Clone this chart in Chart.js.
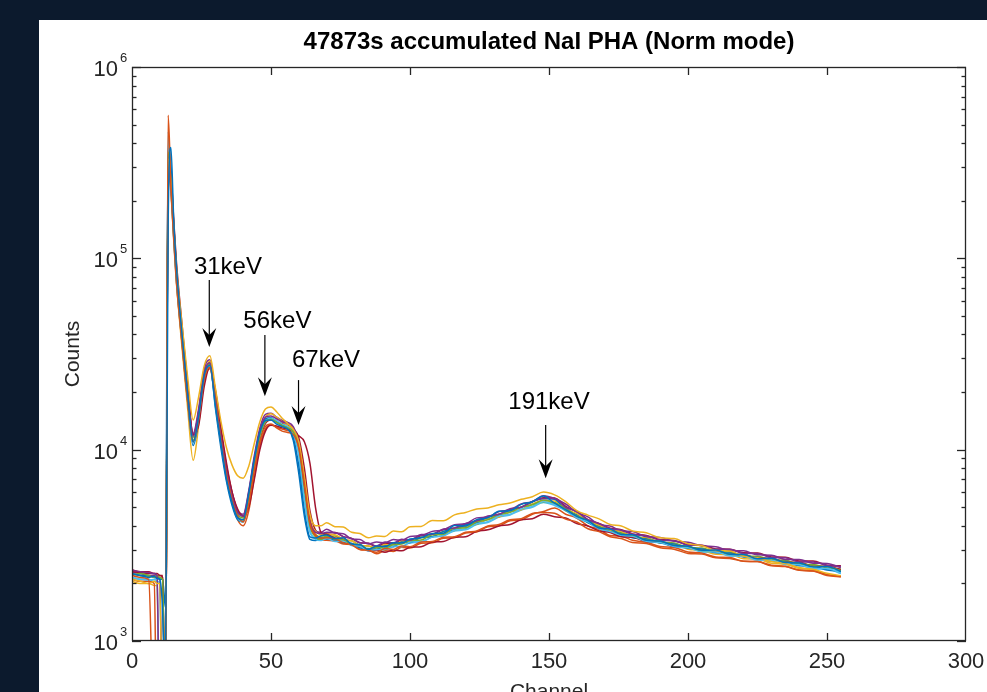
<!DOCTYPE html>
<html><head><meta charset="utf-8">
<script src="https://cdn.jsdelivr.net/npm/chart.js@4.4.1/dist/chart.umd.min.js"></script>
<style>html,body{margin:0;padding:0;background:#0c1a2d;overflow:hidden}#wrap{width:987px;height:692px;position:relative}</style>
</head><body><div id="wrap"><canvas id="c" width="987" height="692"></canvas></div>
<script>
// ---- data ----
const channels = [0,3,6,8,9,10,11,12,13,14,15,16,18,20,22,24,26,28,30,32,34,36,38,40,42,44,46,48,50,52,54,56,58,60,62,64,66,68,70,73,76,79,82,85,88,91,94,97,100,104,108,112,116,120,124,128,132,136,140,144,148,152,156,160,164,168,172,176,180,185,190,195,200,205,210,215,220,225,230,235,240,245,250,255];

const s01 = [2250,2200,2150,2180,2120,2100,1450,500,150000,380000,
160000,90000,40000,19500,11000,15000,24500,27500,17000,10800,
7000,5300,4400,4300,5900,8900,12300,14200,14300,13600,
13200,12800,11500,8200,4800,3500,3450,3550,
3580,3420,3460,3210,3190,3010,3140,3110,3260,3250,3410,3460,3650,3660,4010,3990,4310,4400,4760,4800,5180,5330,5720,5250,4860,4480,4260,3900,3850,3600,3590,3360,3330,3160,3130,2980,2990,2840,2830,2690,2710,2570,2560,2440,2450,2310];
const s02 = [2200,2150,2100,300,300,300,300,300,560000,240000,
130000,76000,36000,18000,11000,14500,23500,27000,18000,11200,
7400,5500,4500,4200,5200,7800,11000,13200,13600,13000,
12500,12300,12000,10200,6600,4100,3550,3450,
3460,3430,3260,3180,3010,2980,2910,3040,3010,3140,3110,3290,3310,3490,3510,3700,3760,3990,4060,4300,4360,4640,4700,4650,4340,4190,3860,3730,3510,3430,3270,3230,3070,3020,2870,2850,2720,2700,2610,2600,2490,2460,2350,2320,2200,2160];
const s03 = [2100,2050,2000,2050,2000,2000,300,300,330000,260000,
150000,90000,45000,24000,14300,19000,27500,31000,21000,14000,
10200,8300,7300,7100,8200,10800,14000,16300,16700,15800,
14600,13700,12800,11000,7200,4600,4000,4000,
4150,3960,3940,3700,3650,3460,3540,3520,3760,3720,3950,3970,4260,4250,4560,4700,4900,4960,5150,5260,5500,5680,6000,5800,5350,4800,4550,4350,4060,3990,3760,3680,3460,3430,3220,3150,2970,2950,2770,2720,2600,2540,2420,2370,2260,2190];
const s04 = [2350,2300,2280,2250,2200,300,300,300,300000,240000,
140000,82000,39000,19500,11800,16000,25500,28500,18500,11600,
7700,5700,4700,4500,6000,9000,12500,14800,15000,14500,
14000,13700,13000,10800,6600,4200,3700,3650,
3700,3690,3510,3440,3260,3240,3140,3290,3260,3400,3370,3600,3610,3850,3900,4110,4250,4500,4600,4910,5000,5360,5560,5560,5000,4750,4300,4100,3860,3790,3610,3540,3370,3340,3170,3160,3010,3020,2870,2870,2730,2720,2590,2590,2480,2450];
const s05 = [2200,2250,2200,2150,2200,2150,2100,300,360000,250000,
135000,79000,37500,18800,11200,15200,24800,28200,18200,11300,
7500,5500,4500,4300,5600,8400,11800,14000,14400,13900,
13400,13000,12400,10300,6300,4000,3500,3400,
3540,3400,3390,3200,3190,3010,3090,3060,3190,3210,3350,3370,3590,3610,3890,3910,4200,4300,4600,4700,5010,5150,5450,5260,4950,4500,4290,3920,3840,3620,3580,3370,3330,3170,3130,2970,2980,2840,2830,2700,2700,2580,2560,2460,2450,2330];
const s06 = [2150,2100,2080,2100,2050,300,300,300,460000,230000,
128000,76000,37000,18500,10800,14800,24000,27200,17500,11000,
7300,5400,4400,4200,5500,8300,11700,14000,14600,14200,
13600,13200,12300,9500,5600,3800,3400,3350,
3440,3310,3330,3160,3130,2960,3010,3010,3140,3110,3290,3310,3490,3560,3790,3860,4100,4200,4500,4600,4900,5050,5350,5160,4850,4400,4190,3860,3730,3570,3530,3320,3270,3120,3070,2940,2920,2800,2770,2650,2640,2520,2500,2400,2390,2270];
const s07 = [2300,2280,2250,2250,2200,2200,2150,300,280000,270000,
160000,95000,45000,22000,12000,13500,21500,27000,20500,13000,
8500,6000,4900,4500,5000,7000,10000,12500,13400,13300,
13000,12800,12500,11800,11000,8500,5000,3700,
3600,3460,3390,3210,3140,2960,2990,2910,2990,2960,3090,3110,3290,3310,3490,3510,3740,3810,3990,4060,4300,4360,4600,4460,4390,4110,3990,3760,3690,3510,3490,3310,3290,3120,3110,2970,2960,2830,2830,2710,2710,2580,2580,2460,2460,2360];
const s08 = [2250,2200,2200,2150,2150,2100,2100,1500,380000,300000,
150000,85000,38000,18500,10500,14200,23800,27800,16500,10200,
6800,5100,4300,4200,5800,8800,12400,14500,14700,14000,
13500,13000,11200,7500,4500,3400,3350,3450,
3410,3390,3260,3240,3060,3040,3010,3140,3110,3290,3260,3490,3510,3740,3810,4050,4150,4450,4560,4850,5000,5350,5560,5500,4850,4550,4160,3940,3710,3640,3460,3410,3250,3210,3050,3030,2890,2880,2750,2730,2610,2600,2470,2460,2350,2310];
const s09 = [2100,2050,2050,2000,300,300,300,300,270000,220000,
125000,74000,36000,18000,11000,14000,22800,26500,18000,11500,
7400,5300,4300,4000,4800,7200,10500,12800,13500,13100,
12800,12600,12200,10600,7000,4300,3600,3400,
3360,3340,3210,3190,3010,2990,2860,2960,2940,3090,3060,3240,3260,3440,3460,3670,3710,3950,4000,4250,4300,4600,4750,4950,4600,4390,4000,3840,3560,3530,3360,3280,3120,3080,2920,2880,2750,2730,2610,2600,2470,2450,2340,2320,2220,2180];
const s10 = [2050,2000,2000,1950,1950,300,300,300,320000,230000,
130000,75000,34000,16500,8800,13500,24000,29000,18500,11000,
7200,5300,4400,4200,5700,8600,12200,14800,15400,14800,
14000,13300,12700,10700,6800,4300,3750,3600,
3610,3590,3410,3340,3160,3140,3060,3190,3160,3320,3310,3490,3510,3740,3800,4000,4100,4350,4450,4750,4850,5200,5400,5390,4900,4640,4260,4040,3810,3740,3510,3440,3250,3210,3020,2980,2840,2830,2690,2680,2550,2520,2390,2360,2230,2170];
const s11 = [2300,2250,2200,2200,2150,2150,300,300,290000,250000,
145000,84000,40000,20000,12200,16500,26500,29500,19000,12000,
8000,5900,4800,4600,6100,9300,13000,15300,15500,14800,
14200,13900,13200,10900,6700,4200,3750,3700,
3840,3660,3640,3410,3390,3210,3290,3260,3390,3360,3520,3560,3740,3810,4050,4100,4400,4450,4750,4850,5200,5350,5750,5560,5200,4700,4450,4060,3990,3760,3740,3510,3480,3320,3280,3140,3110,2970,2960,2820,2810,2670,2670,2550,2540,2420];
const s12 = [2250,2200,2180,2200,2150,2150,2100,300,330000,245000,
138000,80000,38500,19200,11600,15800,25200,28000,18000,11300,
7500,5600,4600,4400,5700,8500,11900,14100,14500,14000,
13500,13100,12600,10600,6600,4100,3600,3500,
3510,3540,3360,3340,3160,3140,3040,3160,3140,3290,3290,3470,3510,3720,3780,3990,4080,4340,4460,4740,4860,5190,5310,5290,4810,4540,4160,3990,3760,3690,3510,3460,3290,3250,3090,3060,2930,2920,2780,2770,2660,2640,2520,2510,2410,2380];
const s13 = [2150,2100,2100,2050,2050,2000,300,300,400000,270000,
140000,80000,37000,18500,11000,15000,24800,28000,17800,11000,
7200,5300,4400,4200,5600,8500,12000,14200,14500,13900,
13300,12900,12000,9300,5500,3700,3450,3400,
3490,3360,3340,3160,3120,2960,3020,2990,3120,3110,3260,3290,3490,3540,3760,3810,4060,4160,4440,4560,4840,5000,5290,5110,4790,4380,4160,3840,3740,3540,3520,3300,3260,3100,3070,2920,2910,2780,2770,2640,2640,2510,2500,2380,2380,2250];
const s14 = [2350,2300,2300,2250,2250,2200,2200,300,300000,260000,
150000,88000,42000,20500,12000,15000,24000,28500,19500,12500,
8200,6000,4800,4500,5500,8000,11200,13700,14300,14000,
13700,13400,12900,11500,8000,4800,3800,3650,
3660,3690,3510,3440,3260,3240,3110,3240,3210,3370,3360,3560,3610,3820,3880,4090,4210,4460,4580,4860,5010,5340,5610,5590,5060,4740,4310,4120,3880,3820,3630,3560,3390,3350,3190,3170,3030,3020,2890,2880,2750,2740,2620,2620,2490,2470];

const seriesList = [s01,s02,s03,s04,s05,s06,s07,s08,s09,s10,s11,s12,s13,s14];
const seriesColors = ['#0072BD','#D95319','#EDB120','#7E2F8E','#77AC30','#4DBEEE','#A2142F'];

const xTicks = [0,50,100,150,200,250,300];
const yTicks = [1000,10000,100000,1000000];
const yTickExp = ['3','4','5','6'];

const titleText = '47873s accumulated NaI PHA (Norm mode)';
const xTitle = 'Channel';
const yTitle = 'Counts';

const annLabels = ['31keV','56keV','67keV','191keV'];
const annArrowChannel = [27.8,47.8,59.9,148.8];
const annArrowTip = [34400,19000,13450,7100];
const annArrowTail = [77000,39700,23100,13450];
const annTextChannel = [34.5,52.3,69.8,150.0];
const annTextBase = [82800,43200,27000,16300];

// ---- drawing ----
const FONT = '"Liberation Sans", Arial, Helvetica, sans-serif';
const INK = '#262626';

const bgPlugin = {
  id:'bg',
  beforeDraw(chart){
    const ctx = chart.ctx;
    ctx.save();
    ctx.fillStyle = '#0c1a2d';
    ctx.fillRect(0,0,chart.width,chart.height);
    ctx.fillStyle = '#ffffff';
    ctx.fillRect(39,20,chart.width-39,chart.height-20);
    ctx.restore();
  }
};

function ln(ctx,x1,y1,x2,y2){ctx.beginPath();ctx.moveTo(x1,y1);ctx.lineTo(x2,y2);ctx.stroke();}

const axesPlugin = {
  id:'axesdeco',
  afterDatasetsDraw(chart){
    const ctx = chart.ctx;
    const {left,right,top,bottom} = chart.chartArea;
    const xs = chart.scales.x, ys = chart.scales.y;
    ctx.save();
    // annotations
    ctx.fillStyle = '#000';
    ctx.strokeStyle = '#000';
    ctx.lineWidth = 1.2;
    for (let i=0;i<annLabels.length;i++){
      const ax = xs.getPixelForValue(annArrowChannel[i]);
      const tipY = ys.getPixelForValue(annArrowTip[i]);
      const tailY = ys.getPixelForValue(annArrowTail[i]);
      ln(ctx,ax,tailY,ax,tipY-10);
      ctx.beginPath();
      ctx.moveTo(ax,tipY);
      ctx.lineTo(ax-7,tipY-19);
      ctx.lineTo(ax,tipY-12);
      ctx.lineTo(ax+7,tipY-19);
      ctx.closePath();
      ctx.fill();
      ctx.font = '24px '+FONT;
      ctx.textAlign = 'center';
      ctx.textBaseline = 'alphabetic';
      ctx.fillText(annLabels[i], xs.getPixelForValue(annTextChannel[i]), ys.getPixelForValue(annTextBase[i]));
    }
    // box
    ctx.strokeStyle = INK;
    ctx.lineWidth = 1.3;
    ctx.strokeRect(left+0.5, top+0.5, right-left-1, bottom-top-1);
    // x ticks (inward, bottom and top)
    xTicks.forEach(v=>{
      const px = Math.round(xs.getPixelForValue(v))+0.5;
      if (v>xs.min && v<xs.max){ ln(ctx,px,bottom,px,bottom-8); ln(ctx,px,top,px,top+8); }
    });
    // y ticks major / minor
    yTicks.forEach((v,k)=>{
      const py = Math.round(ys.getPixelForValue(v))+0.5;
      ln(ctx,left,py,left+9,py); ln(ctx,right,py,right-9,py);
      if (k<yTicks.length-1){
        for (let m=2;m<=9;m++){
          const q = Math.round(ys.getPixelForValue(v*m))+0.5;
          ln(ctx,left,q,left+4.5,q); ln(ctx,right,q,right-4.5,q);
        }
      }
    });
    // y labels 10^n
    ctx.fillStyle = INK;
    yTicks.forEach((v,k)=>{
      const py = ys.getPixelForValue(v);
      ctx.font = '22px '+FONT;
      ctx.textAlign = 'right';
      ctx.textBaseline = 'alphabetic';
      ctx.fillText('10', left-14, py+9);
      ctx.font = '13px '+FONT;
      ctx.textAlign = 'left';
      ctx.fillText(yTickExp[k], left-12, py-5);
    });
    // title
    ctx.fillStyle = '#000';
    ctx.font = 'bold 24px '+FONT;
    ctx.textAlign = 'center';
    ctx.fillText(titleText, (left+right)/2, 49);
    // axis titles
    ctx.fillStyle = INK;
    ctx.font = '21px '+FONT;
    ctx.fillText(xTitle, (left+right)/2, 698);
    ctx.save();
    ctx.translate(79,(top+bottom)/2);
    ctx.rotate(-Math.PI/2);
    ctx.fillText(yTitle, 0, 0);
    ctx.restore();
    ctx.restore();
  }
};

const datasets = seriesList.map((vals,i)=>({
  label: 'PHA '+(i+1),
  data: channels.map((c,j)=>({x:c,y:vals[j]})),
  borderColor: seriesColors[i % seriesColors.length],
  borderWidth: 1.5,
  pointRadius: 0,
  fill: false,
  cubicInterpolationMode: 'monotone'
}));

new Chart(document.getElementById('c'), {
  type: 'line',
  data: { datasets },
  options: {
    responsive: false,
    animation: false,
    events: [],
    layout: { padding: { top: 67, right: 21, left: 0, bottom: 0 } },
    plugins: { legend: {display:false}, title: {display:false}, tooltip: {enabled:false} },
    scales: {
      x: {
        type: 'linear', min: 0, max: 300,
        ticks: { stepSize: 50, color: INK, font: {family: FONT, size: 22}, padding: 8, maxRotation: 0, autoSkip: false },
        grid: { display: false, drawTicks: false },
        border: { display: false },
        afterFit: s => { s.height = 51; s.paddingLeft = 0; s.paddingRight = 0; }
      },
      y: {
        type: 'logarithmic', min: 1000, max: 1000000,
        ticks: { display: false },
        grid: { display: false, drawTicks: false },
        border: { display: false },
        afterFit: s => { s.width = 132; s.paddingTop = 0; s.paddingBottom = 0; }
      }
    }
  },
  plugins: [bgPlugin, axesPlugin]
});
</script>
</body></html>
